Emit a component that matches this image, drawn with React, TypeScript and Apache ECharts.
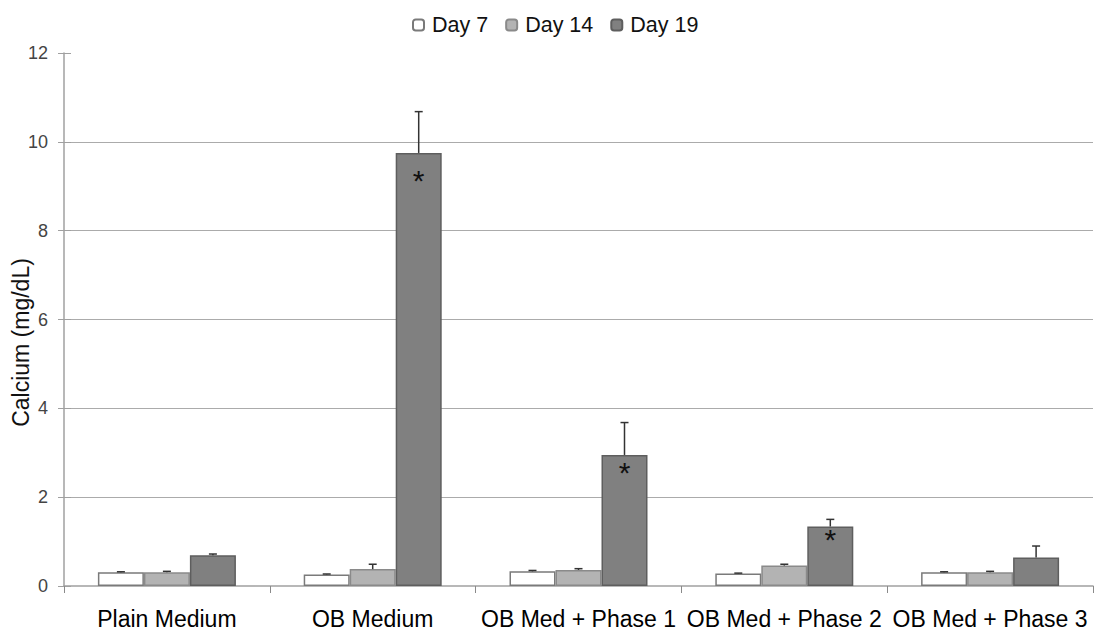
import React, { useEffect, useRef } from "react";
import * as echarts from "echarts";

const categories = ["Plain Medium", "OB Medium", "OB Med + Phase 1", "OB Med + Phase 2", "OB Med + Phase 3"];
const seriesNames = ["Day 7", "Day 14", "Day 19"];
const day7 = [0.31, 0.26, 0.33, 0.28, 0.31];
const day14 = [0.31, 0.38, 0.36, 0.46, 0.31];
const day19 = [0.69, 9.75, 2.95, 1.34, 0.64];
const err7 = [0.01, 0.01, 0.02, 0.01, 0.01];
const err14 = [0.02, 0.11, 0.03, 0.03, 0.02];
const err19 = [0.03, 0.93, 0.73, 0.16, 0.26];
const significant = [false, true, true, true, false];
const gridValues = [2, 4, 6, 8, 10];
const yMin = 0;
const yMax = 12;
const yStep = 2;

const fills = ["#ffffff", "#b3b3b3", "#808080"];
const borders = ["#7a7a7a", "#8a8a8a", "#5e5e5e"];
const starDist = [0, 13, 3, -2, 0];

export default function App() {
  const ref = useRef<HTMLDivElement>(null);
  useEffect(() => {
    if (!ref.current) return;
    const chart = echarts.init(ref.current, undefined, { renderer: "svg" });
    const values = [day7, day14, day19];
    const errs = [err7, err14, err19];
    const barW = 46;
    const offsets = [-barW, 0, barW];

    const barSeries: any[] = values.map((vals, si) => ({
      name: seriesNames[si],
      type: "bar",
      barWidth: barW,
      barGap: "0%",
      itemStyle: { color: fills[si], borderColor: borders[si], borderWidth: 1.5 },
      data: vals.map((v, i) => {
        const d: any = { value: v };
        if (si === 2 && significant[i]) {
          d.label = {
            show: true,
            position: "insideTop",
            distance: starDist[i],
            formatter: "*",
            fontSize: 30,
            fontFamily: "Liberation Sans",
            color: "#111",
          };
        }
        return d;
      }),
      markLine:
        si === 0
          ? {
              silent: true,
              symbol: "none",
              label: { show: false },
              lineStyle: { color: "#ababab", width: 1.2, type: "solid" },
              data: gridValues.map((g) => ({ yAxis: g })),
              z: 0,
            }
          : undefined,
      z: 2,
    }));

    const errSeries: any[] = values.map((vals, si) => ({
      name: seriesNames[si] + " err",
      type: "custom",
      silent: true,
      z: 5,
      data: vals.map((v, i) => [i, v, v + errs[si][i]]),
      renderItem: (params: any, api: any) => {
        const x = api.value(0);
        const lo = api.coord([x, api.value(1)]);
        const hi = api.coord([x, api.value(2)]);
        const cx = lo[0] + offsets[si];
        const cap = 4;
        return {
          type: "group",
          children: [
            { type: "line", shape: { x1: cx, y1: lo[1], x2: cx, y2: hi[1] }, style: { stroke: "#333", lineWidth: 1.5 } },
            { type: "line", shape: { x1: cx - cap, y1: hi[1], x2: cx + cap, y2: hi[1] }, style: { stroke: "#333", lineWidth: 1.5 } },
          ],
        };
      },
    }));

    chart.setOption({
      animation: false,
      textStyle: { fontFamily: "Liberation Sans" },
      legend: {
        data: seriesNames,
        top: 9,
        left: 407,
        itemWidth: 11,
        itemHeight: 11,
        itemGap: 17,
        textStyle: { fontSize: 21.5, color: "#111", fontFamily: "Liberation Sans", padding: [0, 0, 0, 3] },
      },
      grid: { left: 64, right: 3, top: 53, bottom: 47, containLabel: false, outerBoundsMode: "none" },
      xAxis: {
        type: "category",
        data: categories,
        axisLine: { lineStyle: { color: "#a0a0a0", width: 1.5 } },
        axisTick: { show: true, length: 7, lineStyle: { color: "#8a8a8a" } },
        axisLabel: { interval: 0, fontSize: 23, color: "#000", margin: 21, fontFamily: "Liberation Sans" },
      },
      yAxis: [
        {
          type: "value",
          min: yMin,
          max: yMax,
          interval: yStep,
          name: "Calcium (mg/dL)",
          nameLocation: "middle",
          nameGap: 32,
          nameMoveOverlap: false,
          nameTextStyle: { fontSize: 23, color: "#111", fontFamily: "Liberation Sans", padding: [0, 46, 0, 0] },
          axisLine: { show: true, lineStyle: { color: "#a0a0a0", width: 1.5 } },
          axisTick: { show: true, length: 6, lineStyle: { color: "#a0a0a0" } },
          axisLabel: { fontSize: 18, color: "#444", margin: 16, fontFamily: "Liberation Sans" },
          splitLine: { show: false },
        },
        {
          type: "value",
          min: yMin,
          max: yMax,
          interval: yStep,
          position: "left",
          axisLine: { show: false },
          axisTick: { show: true, inside: true, length: 7, lineStyle: { color: "#a0a0a0" } },
          axisLabel: { show: false },
          splitLine: { show: false },
        },
      ],
      series: [...barSeries, ...errSeries],
    });
    return () => chart.dispose();
  }, []);
  return <div ref={ref} style={{ position: "absolute", left: 0, top: 0, width: 1096, height: 633 }} />;
}
